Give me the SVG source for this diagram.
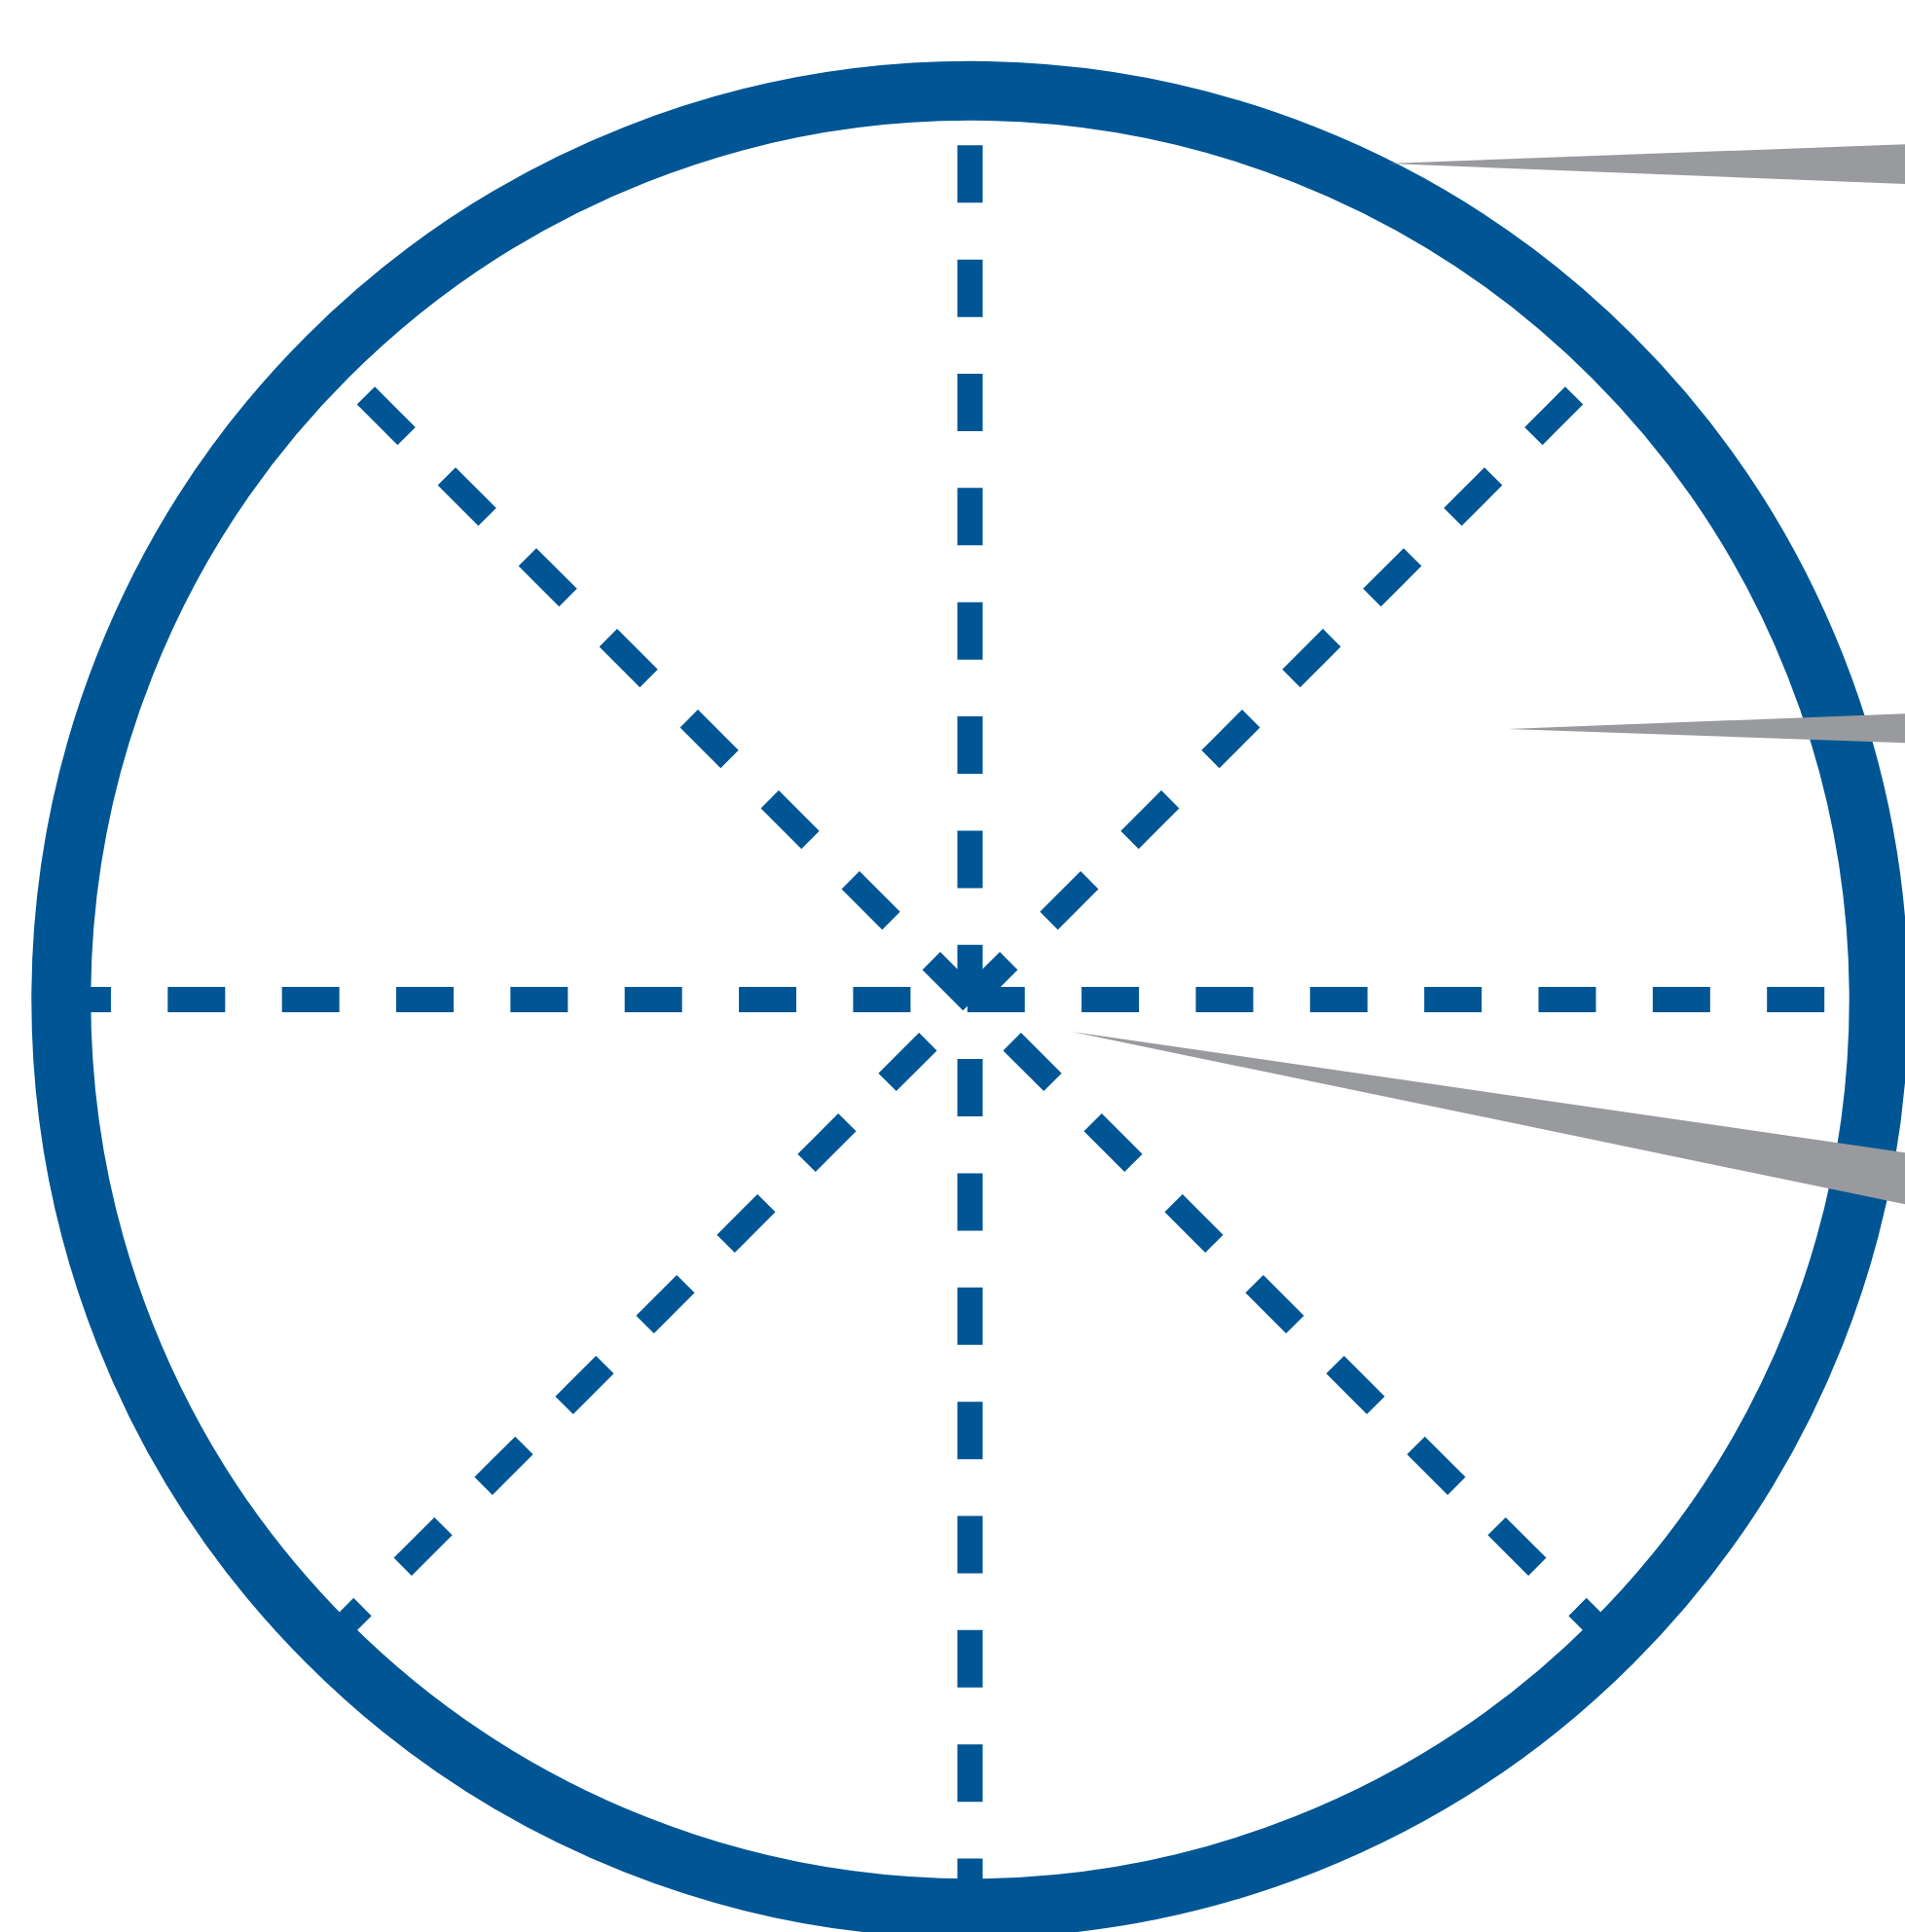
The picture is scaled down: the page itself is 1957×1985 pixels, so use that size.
<svg xmlns="http://www.w3.org/2000/svg" width="1957" height="1985" viewBox="0 0 1957 1985" shape-rendering="geometricPrecision">
<style>
.axis{fill:none;stroke:#005694;stroke-width:26;stroke-dasharray:59 58.35;stroke-linecap:butt}
.ring{fill:none;stroke:#005694;stroke-width:61}
.pointer{fill:#999a9e;stroke:none}
</style>
<rect x="0" y="0" width="1957" height="1985" fill="#ffffff"/>
<g id="axes">
<path class="axis" d="M996.5 149.3 L996.5 1977"/>
<path class="axis" d="M1874.2 1027 L46.5 1027"/>
<path class="axis" d="M375.87 406.37 L1668.25 1698.75"/>
<path class="axis" d="M1617.13 406.37 L324.75 1698.75"/>
</g>
<g id="ring">
<circle class="ring" cx="996.5" cy="1027" r="933.7"/>
</g>
<g id="pointers">
<polygon id="pointer-top" class="pointer" points="1426,168 1957,148.3 1957,189"/>
<polygon id="pointer-middle" class="pointer" points="1549,749 1957,733.3 1957,763.3"/>
<polygon id="pointer-bottom" class="pointer" points="1101,1060 1957,1184.3 1957,1237.3"/>
</g>
</svg>
